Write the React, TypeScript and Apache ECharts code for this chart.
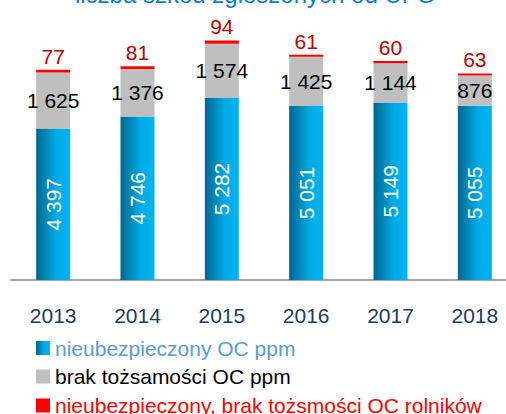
import React, { useEffect, useRef } from "react";
import * as echarts from "echarts";

const categories = ["2013", "2014", "2015", "2016", "2017", "2018"];
const uninsuredOC = [4397, 4746, 5282, 5051, 5149, 5055];
const noIdentityOC = [1625, 1376, 1574, 1425, 1144, 876];
const farmersOC = [77, 81, 94, 61, 60, 63];
const seriesNames = [
  "nieubezpieczony OC ppm",
  "brak tożsamości OC ppm",
  "nieubezpieczony, brak tożsmości OC rolników",
];
const legendColors = ["#5b9bd5", "#000000", "#ff0000"];
const titleText = "liczba szkód zgłoszonych od UFG";

const FONT = "'Liberation Sans', Arial, sans-serif";
const fmt = (v: number) => String(v).replace(/\B(?=(\d{3})+(?!\d))/g, " ");

export default function App() {
  const ref = useRef<HTMLDivElement>(null);
  useEffect(() => {
    if (!ref.current) return;
    const chart = echarts.init(ref.current, undefined, { renderer: "svg" });
    const blueGrad = new echarts.graphic.LinearGradient(0, 0, 1, 0, [
      { offset: 0, color: "#006690" },
      { offset: 0.6, color: "#00abe6" },
      { offset: 1, color: "#00b4f0" },
    ]);
    const legendTops = [332.5, 361, 390];
    chart.setOption({
      animation: false,
      textStyle: { fontFamily: FONT },
      graphic: [
        {
          type: "text",
          x: 255,
          y: 6,
          style: {
            text: titleText,
            fill: "#0b7dd1",
            font: `24px ${FONT}`,
            textAlign: "center",
            textVerticalAlign: "bottom",
          },
        },
      ],
      grid: { left: 11, right: 0, top: 0, bottom: 134, containLabel: false },
      legend: seriesNames.map((name, i) => ({
        orient: "vertical",
        left: 31,
        top: legendTops[i],
        itemWidth: 14,
        itemHeight: 14,
        icon: "rect",
        textStyle: { fontSize: 21, fontFamily: FONT, color: legendColors[i] },
        data: [name],
      })),
      xAxis: {
        type: "category",
        data: categories,
        axisLine: { lineStyle: { color: "#a6a6a6", width: 2 } },
        axisTick: { length: 8, lineStyle: { color: "#a6a6a6", width: 2 } },
        axisLabel: { color: "#1f3864", fontSize: 21, margin: 25, fontFamily: FONT },
      },
      yAxis: { type: "value", min: 0, max: 8125, show: false, splitLine: { show: false } },
      series: [
        {
          name: seriesNames[0],
          type: "bar",
          stack: "t",
          barWidth: 34,
          data: uninsuredOC,
          itemStyle: { color: blueGrad },
          label: {
            show: true,
            position: "inside",
            rotate: 90,
            color: "#ffffff",
            fontSize: 21,
            fontFamily: FONT,
            formatter: (p: any) => fmt(p.value),
          },
        },
        {
          name: seriesNames[1],
          type: "bar",
          stack: "t",
          barWidth: 34,
          data: noIdentityOC,
          itemStyle: { color: "#bfbfbf" },
          label: {
            show: true,
            position: "inside",
            color: "#000000",
            fontSize: 21,
            fontFamily: FONT,
            formatter: (p: any) => fmt(p.value),
          },
        },
        {
          name: seriesNames[2],
          type: "bar",
          stack: "t",
          barWidth: 34,
          data: farmersOC,
          itemStyle: { color: "#ff0000" },
          label: {
            show: true,
            position: "top",
            distance: 3,
            color: "#c00000",
            fontSize: 21,
            fontFamily: FONT,
            formatter: (p: any) => fmt(p.value),
          },
        },
      ],
    });
    return () => chart.dispose();
  }, []);
  return (
    <div style={{ position: "fixed", left: 0, top: 0, width: 506, height: 414, overflow: "hidden", background: "#fff" }}>
      <div ref={ref} style={{ width: 517, height: 414 }} />
    </div>
  );
}
